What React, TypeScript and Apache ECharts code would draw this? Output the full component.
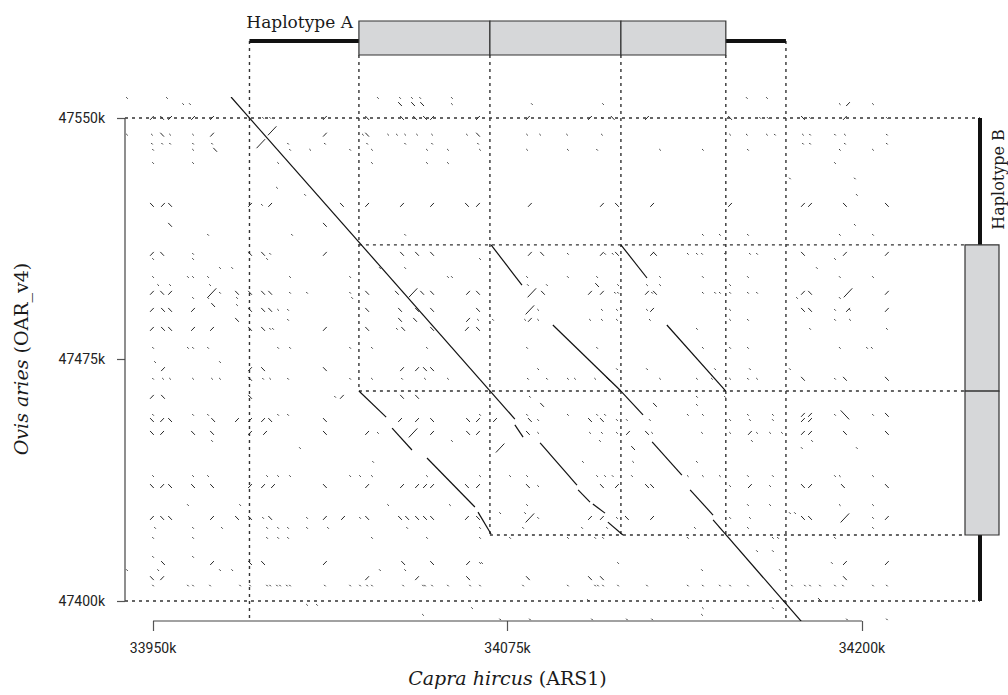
import React, { useEffect, useRef } from "react";
import * as echarts from "echarts";

// Axis ranges (kb)
const GOAT_LIMITS = [33940.1, 34209.9];
const SHEEP_LIMITS = [47393.8, 47556.5];
const GOAT_TICKS = [33950, 34075, 34200];
const SHEEP_TICKS = [47400, 47475, 47550];

// Haplotype A (goat) : flank start, copy1, copy2, copy3, copies end, flank end
const HAP_A = [33984, 34022.6, 34068.8, 34115, 34152, 34173.2];
// Haplotype B (sheep): flank start, copy1, copy2, copies end, flank end
const HAP_B = [47550, 47510.6, 47465.2, 47420.5, 47400];

// Alignment diagonals [goat1, sheep1, goat2, sheep2]
const ALIGNMENTS: number[][] = [
  [33977.5, 47556.5, 34077.6, 47456.5],
  [34077.6, 47454.7, 34080.5, 47450.9],
  [34086.5, 47449.1, 34099.5, 47436.0],
  [34099.9, 47434.5, 34104.1, 47430.7],
  [34105.1, 47430.1, 34109.4, 47427.3],
  [34110.4, 47424.5, 34115.7, 47420.5],
  [34115.0, 47465.2, 34122.8, 47457.8],
  [34126.0, 47449.4, 34136.5, 47439.1],
  [34139.4, 47434.5, 34147.5, 47426.7],
  [34147.5, 47425.2, 34178.8, 47393.5],
  [34022.6, 47465.2, 34032.2, 47457.1],
  [34034.3, 47453.7, 34041.3, 47446.9],
  [34046.6, 47444.4, 34063.5, 47429.2],
  [34064.6, 47427.6, 34069.2, 47420.8],
  [34069.2, 47510.6, 34080.1, 47498.1],
  [34091.0, 47485.7, 34115.0, 47465.2],
  [34115.0, 47510.6, 34124.2, 47500.3],
  [34131.2, 47485.7, 34152.0, 47465.2],
];

// Short match specks: [sheep, forward "\" goats, reverse "/" goats, dot goats]
const SPECK_ROWS: [number, number[], number[], number[]][] = [
  [47556.2, [], [], [33940.8, 33954.9, 34029.3, 34037.1, 34041.3, 34044.2, 34055.4, 34159.4, 34166.5]],
  [47554.3, [34037.1, 34041.7, 34044.9], [34195.1], [33960.6, 33963.0, 34055.4, 34083.6, 34108.7, 34192.2, 34203.9]],
  [47550.0, [33953.2, 34025.5, 34037.8, 34042.4, 34045.9, 34112.1, 34153.5, 34179.2], [33949.6, 33956.0, 33964.1, 33970.8, 34010.6, 34048.4, 34064.6, 34082.2, 34104.1, 34124.2, 34194.0], [33988.8, 33991.3, 34108.3, 34164.1, 34166.8, 34181.7, 34208.8]],
  [47544.8, [33953.2, 34025.5, 34064.6], [33970.8, 34010.6], [33940.8, 33949.6, 33956.0, 33964.1, 34024.0, 34032.9, 34036.0, 34038.9, 34043.1, 34048.4, 34060.7, 34081.9, 34086.5, 34096.0, 34108.3, 34153.5, 34159.4, 34166.5, 34169.3, 34179.2, 34181.7, 34190.5, 34194.0, 34208.8]],
  [47542.0, [], [], [33949.6, 33953.2, 33956.0, 33964.1, 33970.8, 33997.6, 34010.6, 34025.5, 34038.9, 34048.4, 34064.6, 34179.2, 34181.7, 34194.0, 34208.8]],
  [47540.1, [33971.9], [], [33950.0, 33964.1, 33998.3, 34005.4, 34019.5, 34027.2, 34046.6, 34054.0, 34065.3, 34081.9, 34096.3, 34106.6, 34128.8, 34143.9, 34159.8, 34192.2, 34203.9]],
  [47536.0, [], [], [33950.0, 33964.1, 33994.1, 34027.2, 34046.6, 34054.0, 34190.5]],
  [47531.2, [], [], [34197.5, 34174.6]],
  [47528.3, [], [], [33993.7]],
  [47526.1, [], [], [34003.6, 34198.2]],
  [47523.0, [33949.6, 33956.0, 34016.6, 34060.7, 34113.6, 34194.0, 34208.8], [33953.5, 33984.2, 33991.3, 34025.5, 34037.8, 34048.4, 34064.6, 34082.9, 34108.3, 34126.0, 34153.5, 34179.2, 34181.7], [33988.4]],
  [47516.8, [33956.0, 34010.6], [], [34197.5]],
  [47513.7, [], [], [33969.4, 33999.0, 34038.9, 34143.9, 34149.9, 34159.8, 34192.2, 34203.9]],
  [47507.8, [33953.2, 33984.2, 33988.8, 34037.8, 34043.1, 34048.4, 34087.2, 34113.6, 34127.0, 34179.2], [33949.6, 34010.6, 34082.9, 34108.3, 34126.0, 34194.0, 34208.8], [33964.1, 33991.3, 34096.3, 34109.4, 34112.1, 34138.6, 34141.8, 34143.6, 34151.7, 34160.5, 34163.0]],
  [47506.2, [], [], [33950.0, 33964.1, 33990.2, 34065.3, 34190.5]],
  [47503.4, [], [], [33973.6, 33977.9, 34030.0, 34038.9, 34184.1]],
  [47500.6, [], [], [33950.0, 33962.3, 33964.1, 33969.4, 33998.3, 34019.5, 34054.0, 34055.4, 34081.9, 34096.3, 34106.6, 34128.8, 34143.9, 34159.8, 34192.2, 34203.9]],
  [47498.1, [34106.6], [], [33951.8, 33956.0, 33970.1, 34082.2, 34088.9, 34114.0, 34124.2, 34128.8, 34153.5]],
  [47495.7, [33953.2, 33979.6, 33984.2, 33988.8, 33991.3, 34025.5, 34036.0, 34044.9, 34048.4, 34064.6, 34087.5, 34127.0, 34181.7], [33949.6, 33956.0, 34061.1, 34104.1, 34108.3, 34124.2, 34179.2, 34208.8], [33973.6, 33998.3, 34004.3, 34019.5, 34112.9, 34114.0, 34126.0, 34143.9, 34148.2, 34149.9, 34153.5, 34159.8, 34163.0]],
  [47494.1, [], [], [33964.1, 33969.4, 33979.6, 34020.2, 34177.1, 34192.2]],
  [47491.9, [33971.2], [], [33979.6]],
  [47490.4, [33953.5, 33956.0, 33984.2, 33988.8, 33991.3, 34025.5, 34037.1, 34043.1, 34048.4, 34064.6, 34179.2, 34181.7], [33949.6, 33964.1, 34126.0, 34195.1, 34208.8], [33994.1, 33997.6, 34085.8, 34108.3, 34113.6, 34124.2, 34153.5, 34190.5, 34195.8]],
  [47487.3, [33979.6, 34037.1, 34042.4], [34061.1, 34082.9], [33997.6, 34064.6, 34069.9, 34081.2, 34085.8, 34104.1, 34108.3, 34113.6, 34125.2, 34153.5, 34159.8, 34190.5, 34195.8]],
  [47484.5, [33953.5, 33956.0, 33984.2, 33988.8, 34025.5, 34038.2, 34048.4, 34064.6], [33949.6, 33964.1, 33970.8, 34010.6, 34060.7], [33991.3, 33992.3, 34036.0, 34141.8, 34181.7, 34208.8]],
  [47478.6, [], [], [33950.0, 33962.3, 33964.1, 33969.4, 33994.1, 33998.3, 34019.5, 34027.2, 34046.6, 34081.9, 34106.6, 34143.9, 34153.5, 34159.8, 34192.2, 34201.8, 34203.5]],
  [47474.2, [], [], [33950.7, 33973.6]],
  [47472.0, [33988.8, 34010.6, 34045.9, 34048.4], [33953.5, 33984.2, 34037.8, 34043.1], [34085.8, 34113.6, 34124.2, 34148.2, 34160.5, 34174.6]],
  [47469.0, [33984.2, 34110.4, 34179.2, 34194.0, 34208.8], [], [33950.0, 33953.5, 33956.0, 33964.1, 33970.8, 33973.6, 33988.8, 33991.3, 33997.6, 34019.5, 34027.2, 34037.8, 34045.9, 34054.0, 34082.2, 34088.9, 34096.3, 34098.8, 34105.9, 34128.8, 34141.8, 34147.1, 34153.5, 34159.8, 34163.0, 34190.5]],
  [47463.4, [33953.5, 33984.2, 34037.8, 34043.1], [33949.6, 34016.6], [34014.2, 34082.9, 34141.8, 34151.7]],
  [47460.9, [34087.2, 34127.0], [], [34141.8]],
  [47457.8, [34208.8], [34179.2, 34181.7], [33950.0, 33964.1, 33969.4, 33994.1, 33997.6, 34065.3, 34081.9, 34096.3, 34106.6, 34109.4, 34138.6, 34143.9, 34159.8, 34168.6, 34190.5, 34203.9]],
  [47456.2, [33949.6, 33956.0, 33971.2, 33991.3, 34010.6, 34048.4, 34061.1, 34082.9, 34104.1, 34108.3], [33953.2, 33979.6, 33984.2, 33988.8, 34037.1, 34043.1, 34064.6, 34070.6, 34179.2, 34181.7], [34085.8, 34113.6, 34117.1, 34125.2, 34153.5, 34160.5, 34168.6]],
  [47452.2, [33949.6, 33964.1, 33970.8, 34010.6, 34061.1, 34082.2, 34124.2, 34194.0, 34208.8], [33953.2, 33984.2, 33989.5, 34025.5, 34048.4, 34064.6, 34117.5, 34160.5, 34179.2, 34181.7], [34029.3, 34085.8, 34104.1, 34108.3, 34113.6, 34126.0, 34143.6, 34153.5, 34163.0, 34167.6, 34171.8]],
  [47449.7, [], [], [33970.8, 34055.4, 34107.6, 34161.2, 34182.4]],
  [47447.5, [34119.3], [], [34001.8, 34178.8, 34198.2]],
  [47443.2, [], [], [34027.6, 34101.6, 34119.3, 34141.8]],
  [47438.8, [], [], [33950.0, 33964.1, 33969.4, 33990.2, 33994.1, 33998.3, 34019.5, 34023.0, 34027.2, 34046.6, 34065.3, 34075.9, 34081.9, 34106.6, 34109.4, 34112.1, 34118.9, 34138.6, 34143.9, 34149.9, 34159.8, 34168.6, 34190.5, 34192.2, 34203.9]],
  [47435.7, [33949.6, 33956.0, 33964.1, 33970.8, 34010.6, 34060.7, 34082.2, 34108.3, 34124.2, 34126.0, 34179.2, 34193.3, 34208.8], [33953.2, 33984.2, 33988.8, 33992.3, 34025.5, 34037.8, 34043.1, 34045.9, 34048.4, 34064.6, 34113.6, 34160.5, 34181.7], [34085.8, 34153.5, 34167.6]],
  [47429.8, [], [], [33962.3, 33980.7, 34032.9, 34054.7, 34081.9, 34159.8, 34167.6, 34192.2, 34203.9]],
  [47427.3, [], [], [34072.4, 34081.2, 34174.6, 34176.4]],
  [47425.8, [33953.2, 33956.0, 33979.6, 33984.2, 33991.3, 34025.5, 34037.1, 34039.6, 34043.1, 34045.9, 34048.4, 34064.6, 34117.1, 34179.2, 34181.7], [33949.6, 33970.8, 34010.6, 34017.0, 34060.7, 34104.1, 34108.3, 34126.0, 34208.8], [33988.8, 34004.3, 34023.0, 34085.8, 34113.6, 34153.5, 34160.5, 34203.9]],
  [47422.7, [], [], [33950.7, 33964.1, 33974.3, 33990.2, 33994.1, 33997.6, 34004.3, 34011.7, 34039.6, 34065.3, 34080.5, 34101.3, 34110.1, 34141.1, 34149.9, 34159.8, 34203.9]],
  [47419.6, [], [], [33950.0, 33964.1, 33990.2, 33994.1, 33997.6, 34027.2, 34046.6, 34065.3, 34075.9, 34096.3, 34105.9, 34108.7, 34138.6, 34168.6, 34170.4, 34190.5]],
  [47415.5, [], [], [34163.0, 34168.6]],
  [47413.7, [], [], [33950.0, 33964.1]],
  [47411.8, [33953.5, 33984.2, 33988.8, 34038.2, 34048.4], [33970.8, 34010.6, 34061.1, 34194.0, 34208.8], [34065.3, 34066.0, 34114.0, 34189.4]],
  [47409.6, [], [], [33940.8, 33951.8, 33973.6, 33977.9, 34030.0, 34038.9, 34143.6, 34171.1]],
  [47407.1, [33949.6, 34061.1, 34082.2, 34104.1, 34108.3, 34194.0], [33953.2, 34025.5, 34043.1], []],
  [47404.8, [], [], [33950.0, 33962.3, 33964.1, 33970.1, 33980.7, 33984.2, 33990.2, 33991.3, 33993.7, 33994.8, 33997.2, 33998.3, 34010.6, 34019.5, 34023.0, 34025.5, 34027.2, 34038.2, 34045.2, 34045.9, 34048.4, 34054.0, 34061.8, 34065.3, 34080.5, 34096.3, 34105.9, 34106.9, 34108.7, 34114.0, 34124.2, 34138.6, 34143.9, 34149.9, 34153.5, 34159.8, 34175.3, 34179.9, 34181.7, 34185.2, 34190.5, 34193.3, 34203.9, 34208.8]],
  [47400.3, [34185.2], [], [34103.4]],
  [47398.8, [], [], [34004.3, 34007.8]],
  [47397.8, [], [], [34062.5, 34143.9, 34168.6]],
  [47395.7, [], [], [34045.2, 34143.6]],
  [47394.3, [], [], [34072.4, 34082.9, 34104.8, 34117.1, 34126.0, 34194.7, 34208.8]],
];

// Longer specks [goat, sheep, direction (1 "\", -1 "/")]
const LONG_SPECKS: number[][] = [
  [33992.0, 47546.0, -1],
  [33988.0, 47542.0, -1],
  [33970.8, 47495.7, -1],
  [34041.7, 47495.7, -1],
  [34083.6, 47495.7, -1],
  [34195.1, 47495.7, -1],
  [34082.9, 47490.4, -1],
  [34194.0, 47457.8, 1],
  [34041.7, 47452.2, -1],
  [34072.4, 47447.5, -1],
  [34082.9, 47425.8, -1],
  [34194.0, 47425.8, -1],
];

const INK = "#262626";
const SERIF = "'DejaVu Serif', serif";
const SANS = "Roboto, 'Liberation Sans', sans-serif";

function buildSpecks(): number[][] {
  const out: number[][] = [];
  SPECK_ROWS.forEach(([s, fwd, rev, dots]) => {
    fwd.forEach((g) => out.push([g, s, 1]));
    rev.forEach((g) => out.push([g, s, -1]));
    dots.forEach((g) => out.push([g, s, 0]));
  });
  LONG_SPECKS.forEach(([g, s, d]) => out.push([g, s, d * 2]));
  return out;
}

export default function App() {
  const ref = useRef<HTMLDivElement>(null);

  useEffect(() => {
    if (!ref.current) return;
    const chart = echarts.init(ref.current, null, { renderer: "svg" });

    const renderSpeck = (_params: any, api: any) => {
      const g = api.value(0);
      const s = api.value(1);
      const d = api.value(2);
      const mag = Math.abs(d);
      const hx = mag === 2 ? 1.5 : mag === 1 ? 0.65 : 0.25;
      const hy = mag === 2 ? 1.4 : mag === 1 ? 0.6 : 0.22;
      const sign = d < 0 ? -1 : 1;
      const p1 = api.coord([g - hx, s + sign * hy]);
      const p2 = api.coord([g + hx, s - sign * hy]);
      return {
        type: "line",
        shape: { x1: p1[0], y1: p1[1], x2: p2[0], y2: p2[1] },
        style: { stroke: INK, lineWidth: 1 },
      };
    };

    const renderAlign = (_params: any, api: any) => {
      const p1 = api.coord([api.value(0), api.value(1)]);
      const p2 = api.coord([api.value(2), api.value(3)]);
      return {
        type: "line",
        shape: { x1: p1[0], y1: p1[1], x2: p2[0], y2: p2[1] },
        style: { stroke: "#111", lineWidth: 1.2 },
      };
    };

    const renderAnnot = (_params: any, api: any) => {
      const P = (g: number, s: number) => api.coord([g, s]);
      const top = P(GOAT_LIMITS[0], SHEEP_LIMITS[1])[1];
      const bottom = P(GOAT_LIMITS[0], SHEEP_LIMITS[0])[1];
      const left = P(GOAT_LIMITS[0], SHEEP_LIMITS[0])[0];
      const right = P(GOAT_LIMITS[1], SHEEP_LIMITS[0])[0];
      const gx = HAP_A.map((g) => P(g, SHEEP_LIMITS[0])[0]);
      const sy = HAP_B.map((s) => P(GOAT_LIMITS[0], s)[1]);
      const barY = top - 56;
      const boxTop = top - 76;
      const boxBot = top - 42;
      const barX = right + 90;
      const boxL = right + 75;
      const boxR = right + 109;
      const dot = { stroke: "#333", lineWidth: 1.4, lineDash: [3, 4] };
      const vline = (x: number, y1: number, y2: number) => ({
        type: "line", shape: { x1: x, y1, x2: x, y2 }, style: dot,
      });
      const hline = (y: number, x1: number, x2: number) => ({
        type: "line", shape: { x1, y1: y, x2, y2: y }, style: dot,
      });
      const box = { fill: "#d6d7d9", stroke: "#333", lineWidth: 1.2 };
      const axis = { stroke: "#444", lineWidth: 1.2 };
      const xa1 = P(GOAT_TICKS[0], SHEEP_LIMITS[0])[0];
      const xa2 = P(GOAT_TICKS[GOAT_TICKS.length - 1], SHEEP_LIMITS[0])[0];
      const ya1 = P(GOAT_LIMITS[0], SHEEP_TICKS[0])[1];
      const ya2 = P(GOAT_LIMITS[0], SHEEP_TICKS[SHEEP_TICKS.length - 1])[1];
      const children: any[] = [
        vline(gx[0], barY, bottom),
        vline(gx[1], boxBot, sy[2]),
        vline(gx[2], boxBot, sy[3]),
        vline(gx[3], boxBot, sy[3]),
        vline(gx[4], boxBot, sy[3]),
        vline(gx[5], barY, bottom),
        hline(sy[0], left, barX),
        hline(sy[1], gx[1], boxL),
        hline(sy[2], gx[1], boxL),
        hline(sy[3], gx[2], boxL),
        hline(sy[4], left, barX),
        { type: "line", shape: { x1: gx[0], y1: barY, x2: gx[5], y2: barY }, style: { stroke: "#111", lineWidth: 4 } },
        { type: "rect", shape: { x: gx[1], y: boxTop, width: gx[2] - gx[1], height: boxBot - boxTop }, style: box },
        { type: "rect", shape: { x: gx[2], y: boxTop, width: gx[3] - gx[2], height: boxBot - boxTop }, style: box },
        { type: "rect", shape: { x: gx[3], y: boxTop, width: gx[4] - gx[3], height: boxBot - boxTop }, style: box },
        { type: "line", shape: { x1: barX, y1: sy[0], x2: barX, y2: sy[4] }, style: { stroke: "#111", lineWidth: 4 } },
        { type: "rect", shape: { x: boxL, y: sy[1], width: boxR - boxL, height: sy[2] - sy[1] }, style: box },
        { type: "rect", shape: { x: boxL, y: sy[2], width: boxR - boxL, height: sy[3] - sy[2] }, style: box },
        { type: "line", shape: { x1: xa1, y1: bottom, x2: xa2, y2: bottom }, style: axis },
        { type: "line", shape: { x1: left, y1: ya1, x2: left, y2: ya2 }, style: axis },
        {
          type: "text", x: gx[1] - 6, y: top - 75,
          style: { text: "Haplotype A", fill: "#1a1a1a", font: `17px ${SERIF}`, textAlign: "right", textVerticalAlign: "middle" },
        },
        {
          type: "text", x: right + 108, y: (sy[0] + sy[1]) / 2 - 2, rotation: Math.PI / 2,
          style: { text: "Haplotype B", fill: "#1a1a1a", font: `16px ${SERIF}`, textAlign: "center", textVerticalAlign: "middle" },
        },
      ];
      return { type: "group", children };
    };

    const option: any = {
      animation: false,
      backgroundColor: "#ffffff",
      grid: { left: 125, top: 97, width: 765, height: 524, containLabel: false },
      xAxis: {
        type: "value",
        min: GOAT_LIMITS[0],
        max: GOAT_LIMITS[1],
        axisLine: { show: false },
        splitLine: { show: false },
        axisTick: { show: true, customValues: GOAT_TICKS, length: 10, lineStyle: { color: "#555", width: 1.2 } },
        axisLabel: {
          customValues: GOAT_TICKS,
          formatter: (v: number) => `${Math.round(v)}k`,
          margin: 20,
          color: "#222",
          fontFamily: SANS,
          fontSize: 14,
        },
        name: "{i|Capra hircus} (ARS1)",
        nameLocation: "middle",
        nameGap: 47,
        nameTextStyle: {
          color: "#1a1a1a",
          fontFamily: SERIF,
          fontSize: 19,
          rich: { i: { fontStyle: "italic", fontFamily: SERIF, fontSize: 19, color: "#1a1a1a" } },
        },
      },
      yAxis: {
        type: "value",
        min: SHEEP_LIMITS[0],
        max: SHEEP_LIMITS[1],
        axisLine: { show: false },
        splitLine: { show: false },
        axisTick: { show: true, customValues: SHEEP_TICKS, length: 8, lineStyle: { color: "#555", width: 1.2 } },
        axisLabel: {
          customValues: SHEEP_TICKS,
          formatter: (v: number) => `${Math.round(v)}k`,
          margin: 20,
          color: "#222",
          fontFamily: SANS,
          fontSize: 14,
        },
        name: "{i|Ovis aries} (OAR_v4)",
        nameLocation: "middle",
        nameGap: 95,
        nameTextStyle: {
          color: "#1a1a1a",
          fontFamily: SERIF,
          fontSize: 19,
          rich: { i: { fontStyle: "italic", fontFamily: SERIF, fontSize: 19, color: "#1a1a1a" } },
        },
      },
      series: [
        {
          type: "custom",
          name: "guides",
          renderItem: renderAnnot,
          data: [[GOAT_LIMITS[0], SHEEP_LIMITS[0]]],
          clip: false,
          silent: true,
          z: 1,
        },
        {
          type: "custom",
          name: "specks",
          renderItem: renderSpeck,
          data: buildSpecks(),
          clip: true,
          silent: true,
          z: 2,
        },
        {
          type: "custom",
          name: "alignments",
          renderItem: renderAlign,
          data: ALIGNMENTS,
          clip: true,
          silent: true,
          z: 3,
        },
      ],
    };

    chart.setOption(option);
    return () => chart.dispose();
  }, []);

  return (
    <div
      ref={ref}
      style={{ position: "absolute", left: 0, top: 0, width: 1008, height: 695, background: "#fff" }}
    />
  );
}
